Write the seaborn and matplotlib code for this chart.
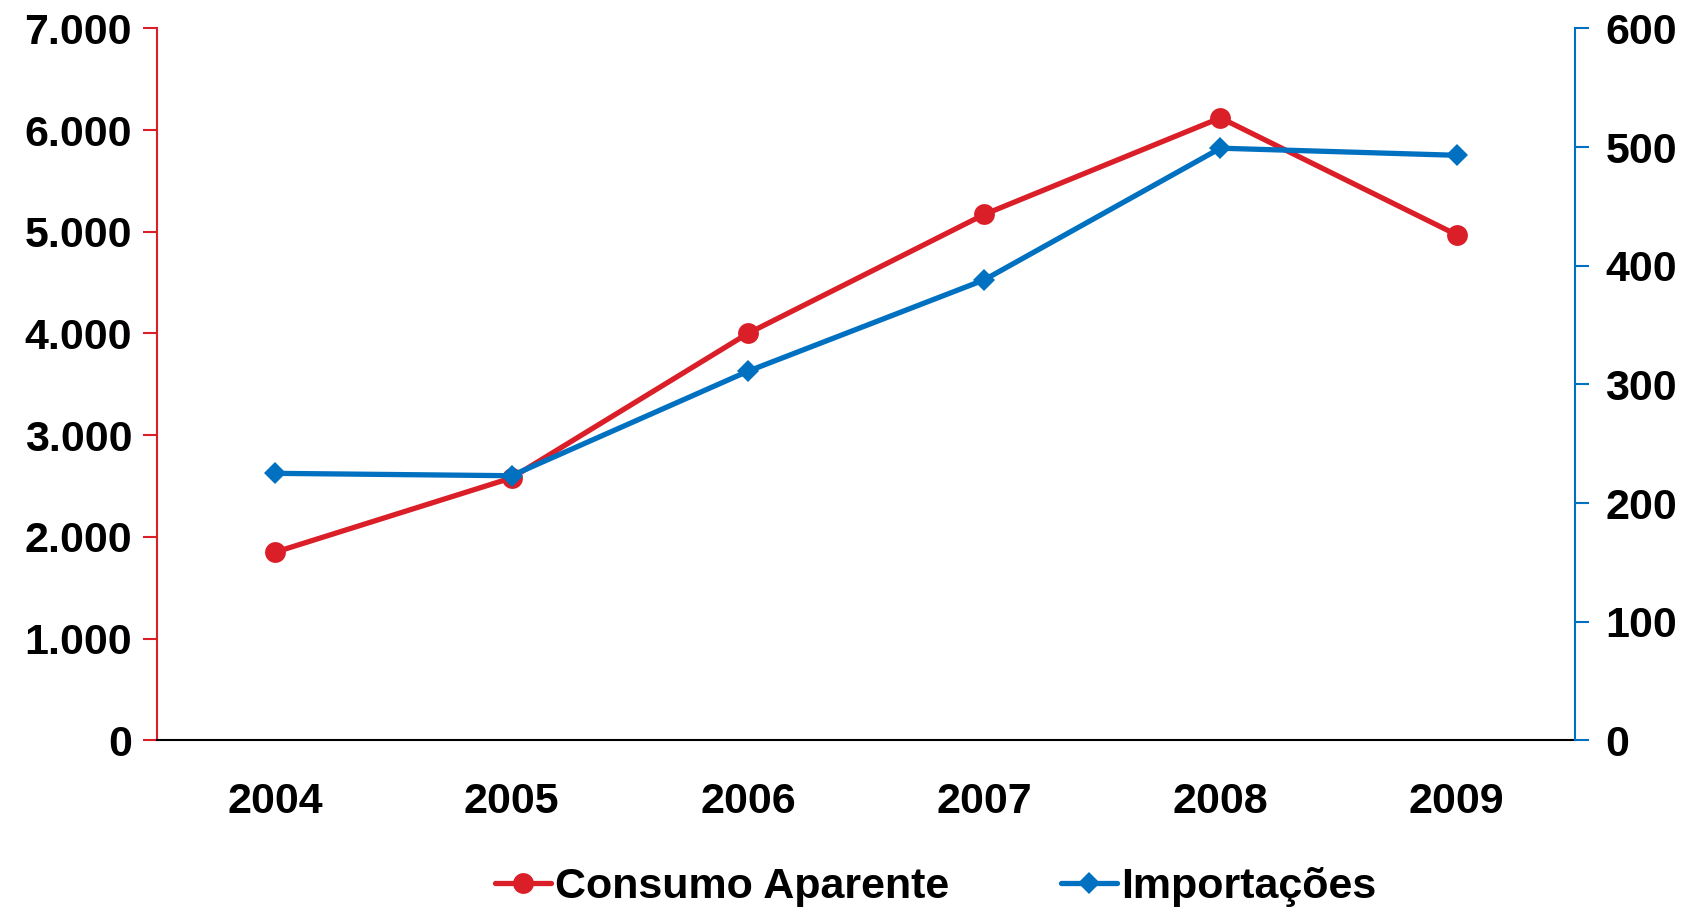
import numpy as np
import pandas as pd
import matplotlib
matplotlib.use("Agg")
import matplotlib.pyplot as plt
import seaborn as sns
from matplotlib.ticker import FuncFormatter, FixedLocator, NullFormatter

# Dados
anos = ["2004", "2005", "2006", "2007", "2008", "2009"]
consumo = [1850, 2580, 4000, 5170, 6120, 4970]
importacoes = [225, 223, 311, 388, 499, 493]

RED = "#DA1F28"
BLUE = "#0070C0"

sns.set_style("white")
plt.rcParams["font.family"] = ["Liberation Sans", "DejaVu Sans"]
plt.rcParams["font.weight"] = "bold"
plt.rcParams["text.color"] = "black"
plt.rcParams["xtick.color"] = "black"
plt.rcParams["ytick.color"] = "black"

df = pd.DataFrame({"ano": anos, "consumo": consumo, "importacoes": importacoes})

fig = plt.figure(figsize=(16.98, 9.14), dpi=100)
ax = fig.add_axes([0.0925, 0.19, 0.835, 0.779])
ax2 = ax.twinx()

sns.lineplot(data=df, x="ano", y="consumo", ax=ax, color=RED, lw=3.8,
             marker="o", markersize=15, markeredgewidth=0, label="Consumo Aparente",
             legend=False)
sns.lineplot(data=df, x="ano", y="importacoes", ax=ax2, color=BLUE, lw=3.8,
             marker="D", markersize=11, markeredgewidth=0, label="Importações",
             legend=False)

ax.set_xlim(-0.5, 5.5)
ax.set_ylim(0, 7000)
ax2.set_ylim(0, 600)
ax.set_yticks(np.arange(0, 7001, 1000))
ax2.set_yticks(np.arange(0, 601, 100))
ax.yaxis.set_major_formatter(FuncFormatter(lambda v, p: f"{int(v):,}".replace(",", ".")))

# ticks nas fronteiras das categorias
ax.xaxis.set_major_locator(FixedLocator(range(len(anos))))
ax.set_xticklabels(anos)
ax.xaxis.set_minor_locator(FixedLocator(np.arange(-0.5, 5.6, 1)))
ax.xaxis.set_minor_formatter(NullFormatter())
ax.tick_params(axis="x", which="major", length=0, pad=30, labelsize=31)
ax.tick_params(axis="x", which="minor", length=10, width=1.5, color="black", direction="out")
ax.tick_params(axis="y", length=10, width=1.5, color=RED, direction="out", labelsize=31, pad=8)
ax2.tick_params(axis="y", length=10, width=1.5, color=BLUE, direction="out", labelsize=31, pad=12)

for lab in ax.get_xticklabels() + ax.get_yticklabels() + ax2.get_yticklabels():
    lab.set_fontweight("bold")
    lab.set_color("black")

for a in (ax, ax2):
    a.spines["top"].set_visible(False)
    a.set_xlabel("")
    a.set_ylabel("")
ax.spines["left"].set_color(RED)
ax.spines["left"].set_linewidth(1.5)
ax.spines["right"].set_visible(False)
ax2.spines["left"].set_visible(False)
ax2.spines["right"].set_color(BLUE)
ax2.spines["right"].set_linewidth(1.5)
ax.spines["bottom"].set_color("black")
ax.spines["bottom"].set_linewidth(1.5)
ax2.spines["bottom"].set_visible(False)

h1, l1 = ax.get_legend_handles_labels()
h2, l2 = ax2.get_legend_handles_labels()
fig.legend(h1 + h2, l1 + l2, loc="center", bbox_to_anchor=(0.551, 0.03), ncol=2,
           frameon=False, handlelength=1.3, handletextpad=0.1,
           columnspacing=2.6, prop={"weight": "bold", "size": 31})

fig.savefig("out.png", dpi=100)
